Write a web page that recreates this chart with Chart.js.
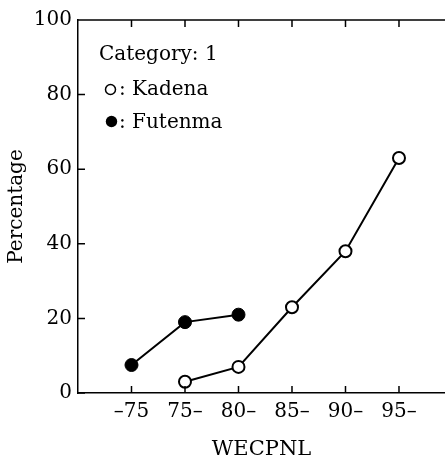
<!DOCTYPE html>
<html>
<head>
<meta charset="utf-8">
<script src="https://cdn.jsdelivr.net/npm/chart.js@4/dist/chart.umd.min.js"></script>
<style>
  html, body { margin: 0; padding: 0; background: #fff; }
  #wrap { width: 445px; height: 464px; }
</style>
</head>
<body>
<div id="wrap"><canvas id="noiseChart" width="445" height="464"></canvas></div>
<script>
// categories of WECPNL, one per x position
var categories = ['\u201375', '75\u2013', '80\u2013', '85\u2013', '90\u2013', '95\u2013'];
// percentage per category (null = no point)
var kadena = [null, 3, 7, 23, 38, 63];
var futenma = [7.5, 19, 21, null, null, null];
var yTicks = [0, 20, 40, 60, 80, 100];

var serif = '"DejaVu Serif", "Liberation Serif", serif';

function toPoints(values) {
    var pts = [];
    values.forEach(function (v, i) {
        if (v !== null) pts.push({ x: i, y: v });
    });
    return pts;
}

// frame extras: top line, inward tick marks, legend text
var framePlugin = {
    id: 'frame',
    afterDraw: function (chart) {
        var ctx = chart.ctx;
        var area = chart.chartArea;
        var xs = chart.scales.x;
        var ys = chart.scales.y;
        ctx.save();
        ctx.strokeStyle = '#000';
        ctx.lineWidth = 1.5;
        ctx.beginPath();
        ctx.moveTo(area.left, area.top);
        ctx.lineTo(chart.width, area.top);
        categories.forEach(function (c, i) {
            var px = xs.getPixelForValue(i);
            ctx.moveTo(px, area.top);
            ctx.lineTo(px, area.top + 7);
            ctx.moveTo(px, area.bottom);
            ctx.lineTo(px, area.bottom - 7);
        });
        yTicks.forEach(function (t) {
            var py = ys.getPixelForValue(t);
            ctx.moveTo(area.left, py);
            ctx.lineTo(area.left + 7, py);
        });
        ctx.stroke();

        // legend block
        ctx.fillStyle = '#000';
        ctx.font = '20px ' + serif;
        ctx.textBaseline = 'alphabetic';
        ctx.textAlign = 'left';
        ctx.fillText('Category: 1', 99, 60);
        ctx.fillText(': Kadena', 119, 95);
        ctx.fillText(': Futenma', 119, 128);
        ctx.lineWidth = 1.5;
        ctx.beginPath();
        ctx.arc(110.5, 89.5, 5, 0, Math.PI * 2);
        ctx.stroke();
        ctx.beginPath();
        ctx.arc(111.5, 121.5, 5.7, 0, Math.PI * 2);
        ctx.fill();
        ctx.restore();
    }
};

var ctx = document.getElementById('noiseChart').getContext('2d');
var noiseChart = new Chart(ctx, {
    type: 'line',
    data: {
        datasets: [{
            label: 'Kadena',
            data: toPoints(kadena),
            borderColor: '#000',
            borderWidth: 2,
            pointRadius: 6,
            pointBorderWidth: 2,
            pointBackgroundColor: '#fff',
            pointBorderColor: '#000',
            fill: false,
            tension: 0
        }, {
            label: 'Futenma',
            data: toPoints(futenma),
            borderColor: '#000',
            borderWidth: 2,
            pointRadius: 6.5,
            pointBorderWidth: 1,
            pointBackgroundColor: '#000',
            pointBorderColor: '#000',
            fill: false,
            tension: 0
        }]
    },
    options: {
        responsive: false,
        animation: false,
        layout: { autoPadding: false, padding: { top: 20, right: 0, bottom: 0, left: 0 } },
        plugins: {
            legend: { display: false },
            tooltip: { enabled: false }
        },
        scales: {
            x: {
                type: 'linear',
                min: -1,
                max: 5.86,
                afterBuildTicks: function (scale) {
                    scale.ticks = categories.map(function (c, i) { return { value: i }; });
                },
                afterFit: function (scale) {
                    scale.height = 71;
                    scale.paddingLeft = 0;
                    scale.paddingRight = 0;
                },
                grid: { display: false, drawTicks: false },
                border: { display: true, color: '#000', width: 1.5 },
                ticks: {
                    autoSkip: false,
                    maxRotation: 0,
                    padding: 7,
                    color: '#000',
                    font: { family: serif, size: 20 },
                    callback: function (v) { return categories[v]; }
                },
                title: {
                    display: true,
                    text: 'WECPNL',
                    color: '#000',
                    font: { family: serif, size: 21 },
                    padding: { top: 4, bottom: 2 }
                }
            },
            y: {
                min: 0,
                max: 100,
                afterBuildTicks: function (scale) {
                    scale.ticks = yTicks.map(function (t) { return { value: t }; });
                },
                afterFit: function (scale) { scale.width = 78; },
                grid: { display: false, drawTicks: false },
                border: { display: true, color: '#000', width: 1.5 },
                ticks: {
                    padding: 6,
                    color: '#000',
                    font: { family: serif, size: 20 }
                },
                title: {
                    display: true,
                    text: 'Percentage',
                    color: '#000',
                    font: { family: serif, size: 20 },
                    padding: { top: 5, bottom: 4 }
                }
            }
        }
    },
    plugins: [framePlugin]
});
</script>
</body>
</html>
